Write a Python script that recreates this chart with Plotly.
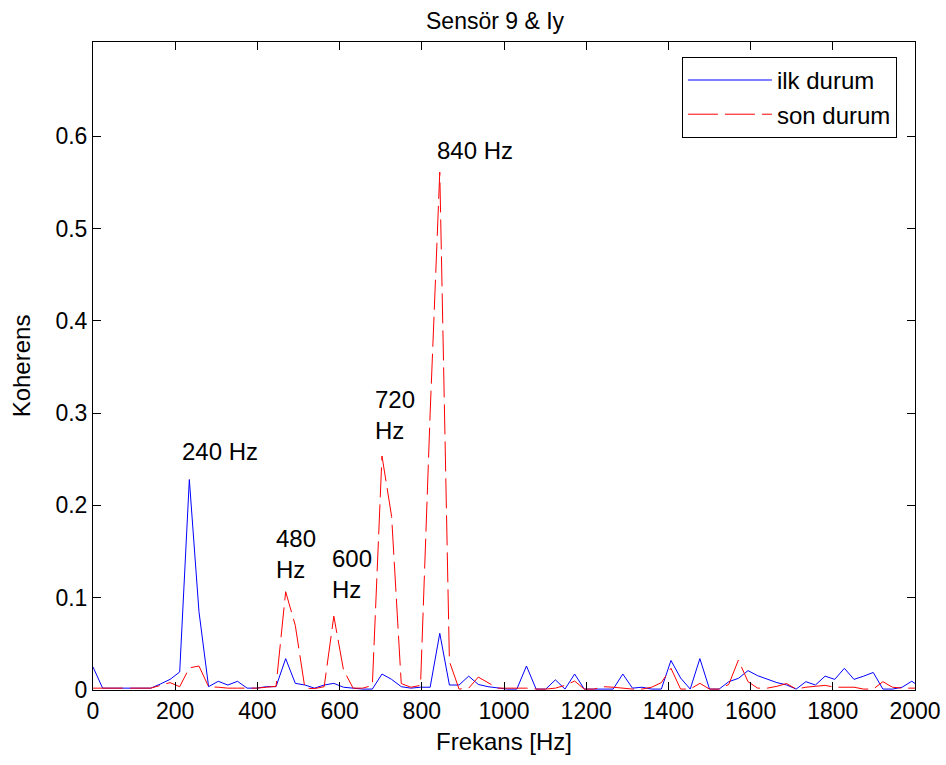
import numpy as np
import plotly.graph_objects as go

# frequency grid (Hz) – spectral bins of 23.4375 Hz
freq = np.arange(87) * 23.4375

ilk_durum = [0.025, 0.002, 0.002, 0.002, 0.002, 0.002, 0.002, 0.0065, 0.0115, 0.0195,
             0.228, 0.085, 0.0036, 0.0094, 0.0054, 0.0094, 0.002, 0.002, 0.0036, 0.0036,
             0.034, 0.0072, 0.0054, 0.002, 0.0054, 0.0072, 0.003, 0.002, 0.001, 0.001,
             0.0173, 0.0115, 0.0036, 0.002, 0.003, 0.003, 0.0614, 0.0054, 0.0054, 0.015,
             0.006, 0.0036, 0.002, 0.001, 0.001, 0.026, 0.001, 0.001, 0.011, 0.001,
             0.0173, 0.001, 0.001, 0.001, 0.001, 0.0173, 0.002, 0.003, 0.001, 0.001,
             0.032, 0.013, 0.001, 0.034, 0.001, 0.001, 0.009, 0.0126, 0.021, 0.0155,
             0.0115, 0.008, 0.0055, 0.001, 0.009, 0.0054, 0.015, 0.0115, 0.0235, 0.0115,
             0.015, 0.019, 0.001, 0.001, 0.003, 0.0095, 0.002]

son_durum = [0.002, 0.002, 0.002, 0.002, 0.002, 0.002, 0.002, 0.005, 0.008, 0.0036,
             0.024, 0.026, 0.0036, 0.003, 0.002, 0.002, 0.002, 0.002, 0.003, 0.004,
             0.1065, 0.070, 0.002, 0.0015, 0.0036, 0.080, 0.022, 0.002, 0.002, 0.005,
             0.2535, 0.188, 0.007, 0.003, 0.005, 0.30, 0.561, 0.031, 0.001, 0.002,
             0.014, 0.008, 0.002, 0.002, 0.002, 0.002, 0.001, 0.001, 0.002, 0.005,
             0.0097, 0.001, 0.001, 0.0036, 0.003, 0.002, 0.001, 0.001, 0.003, 0.008,
             0.0235, 0.001, 0.001, 0.0072, 0.001, 0.001, 0.006, 0.0325, 0.009, 0.002,
             0.002, 0.004, 0.007, 0.001, 0.003, 0.004, 0.005, 0.003, 0.003, 0.003,
             0.001, 0.001, 0.009, 0.003, 0.002, 0.002, 0.002]

x_ticks = [0, 200, 400, 600, 800, 1000, 1200, 1400, 1600, 1800, 2000]
y_ticks = [0, 0.1, 0.2, 0.3, 0.4, 0.5, 0.6]
y_tick_labels = ["0", "0.1", "0.2", "0.3", "0.4", "0.5", "0.6"]

# peak labels: (x, y, text)
peak_x = [212, 440, 577, 681, 832]
peak_y = [0.258, 0.147, 0.126, 0.298, 0.585]
peak_text = ["240 Hz", "480<br>Hz", "600<br>Hz", "720<br>Hz", "840 Hz"]

FONT = "Liberation Sans, Arial, sans-serif"
FS = 24
TFS = 23

fig = go.Figure()
fig.add_trace(go.Scatter(x=freq, y=ilk_durum, mode="lines", name="ilk durum",
                         legendgroup="a",
                         line=dict(color="#0000ff", width=1)))
fig.add_trace(go.Scatter(x=freq, y=son_durum, mode="lines", name="son durum",
                         legendgroup="b",
                         line=dict(color="#ff0000", width=1, dash="30px,7px")))

for px_, py_, t in zip(peak_x, peak_y, peak_text):
    fig.add_annotation(x=px_, y=py_, text=t, showarrow=False, xanchor="left",
                       yanchor="middle", align="left",
                       font=dict(family=FONT, size=FS, color="black"))

fig.add_annotation(x=0.49, y=1, xref="paper", yref="paper", yshift=6,
                   text="Sensör 9 & Iy", showarrow=False, yanchor="bottom",
                   font=dict(family=FONT, size=TFS, color="black"))

axis_common = dict(showline=True, linecolor="black", linewidth=1, mirror="allticks",
                   ticks="inside", ticklen=8, tickcolor="black", showgrid=False,
                   zeroline=False, automargin=False,
                   tickfont=dict(family=FONT, size=TFS, color="black"))

fig.update_layout(
    width=946, height=765,
    margin=dict(l=93, r=31, t=42, b=75),
    paper_bgcolor="white", plot_bgcolor="white",
    font=dict(family=FONT, size=FS, color="black"),
    xaxis=dict(range=[0, 2000], tickvals=x_ticks,
               title=dict(text="Frekans [Hz]", standoff=10,
                          font=dict(family=FONT, size=FS)),
               **axis_common),
    yaxis=dict(range=[0, 0.702], tickvals=y_ticks, ticktext=y_tick_labels,
               title=dict(text="Koherens", standoff=18,
                          font=dict(family=FONT, size=FS)),
               **axis_common),
    legend=dict(x=0.978, y=0.977, xanchor="right", yanchor="top",
                bordercolor="black", borderwidth=1, bgcolor="white",
                tracegroupgap=0, traceorder="grouped", itemwidth=84,
                entrywidth=230, entrywidthmode="pixels",
                font=dict(family=FONT, size=FS)),
    showlegend=True,
)

fig.write_html("out.html", config={"displayModeBar": False},
               post_script="document.body.style.margin='0px';document.body.style.overflow='hidden';")
